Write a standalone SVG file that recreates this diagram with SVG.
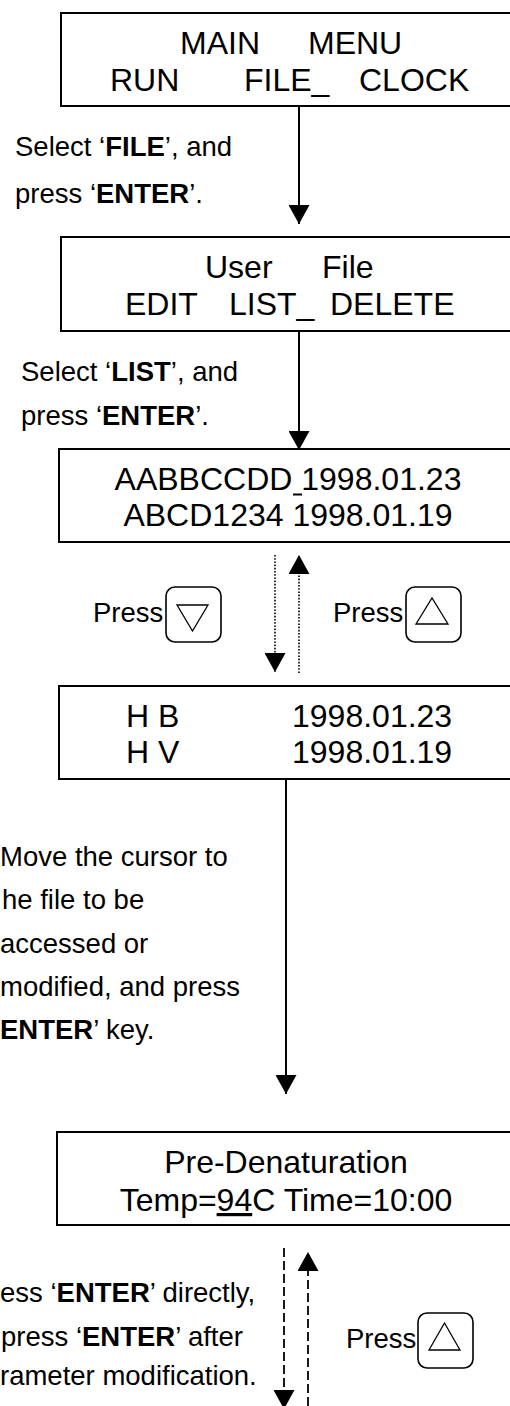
<svg xmlns="http://www.w3.org/2000/svg" width="510" height="1406" viewBox="0 0 510 1406">
  <style>
    .box { fill: #fff; stroke: #000; stroke-width: 2; }
    .lcd { font-family: "Liberation Sans", Arial, sans-serif; font-size: 32px; fill: #000; }
    .note { font-family: "Liberation Sans", Arial, sans-serif; font-size: 27.5px; fill: #000; }
    .b { font-weight: bold; }
    .key { fill: #fff; stroke: #000; stroke-width: 1.6; }
    .tri { fill: none; stroke: #000; stroke-width: 1.3; }
    .flow { fill: none; stroke: #000; stroke-width: 2; }
    .dot { fill: none; stroke: #000; stroke-width: 1.6; stroke-dasharray: 1.6 1.6; }
    .dash { fill: none; stroke: #000; stroke-width: 1.8; stroke-dasharray: 9 4; }
  </style>
  <defs>
    <marker id="head" viewBox="0 0 19 21" markerWidth="19" markerHeight="21" refX="19" refY="10.5" orient="auto" markerUnits="userSpaceOnUse">
      <path d="M0,0 L19,10.5 L0,21 Z" fill="#000"/>
    </marker>
  </defs>

  <rect width="510" height="1406" fill="#fff"/>

  <!-- connectors -->
  <g id="connectors">
    <line class="flow" x1="299" y1="106" x2="299" y2="224" marker-end="url(#head)"/>
    <line class="flow" x1="299" y1="331" x2="299" y2="450" marker-end="url(#head)"/>
    <line class="dot" x1="275" y1="555" x2="275" y2="672" marker-end="url(#head)"/>
    <line class="dot" x1="299" y1="673" x2="299" y2="555" marker-end="url(#head)"/>
    <line class="flow" x1="286" y1="779" x2="286" y2="1094" marker-end="url(#head)"/>
    <line class="dash" x1="284" y1="1248" x2="284" y2="1409" marker-end="url(#head)"/>
    <line class="dash" x1="308" y1="1406" x2="308" y2="1252" marker-end="url(#head)"/>
  </g>

  <!-- screen: main menu -->
  <g id="main-menu">
    <rect class="box" x="61" y="13" width="470" height="93"/>
    <text class="lcd" y="54"><tspan x="180">MAIN</tspan><tspan x="308">MENU</tspan></text>
    <text class="lcd" y="91"><tspan x="110">RUN</tspan><tspan x="244">FILE_</tspan><tspan x="359">CLOCK</tspan></text>
  </g>

  <g id="note-file">
    <text class="note" x="15" y="156">Select ‘<tspan class="b">FILE</tspan>’, and</text>
    <text class="note" x="15" y="203">press ‘<tspan class="b">ENTER</tspan>’.</text>
  </g>

  <!-- screen: user file -->
  <g id="user-file">
    <rect class="box" x="61" y="237" width="470" height="94"/>
    <text class="lcd" y="278"><tspan x="205">User</tspan><tspan x="322">File</tspan></text>
    <text class="lcd" y="315"><tspan x="125">EDIT</tspan><tspan x="229">LIST_</tspan><tspan x="330">DELETE</tspan></text>
  </g>

  <g id="note-list">
    <text class="note" x="21" y="381">Select ‘<tspan class="b">LIST</tspan>’, and</text>
    <text class="note" x="21" y="425">press ‘<tspan class="b">ENTER</tspan>’.</text>
  </g>

  <!-- screen: file list -->
  <g id="file-list">
    <rect class="box" x="59" y="449" width="472" height="93"/>
    <text class="lcd" x="288" y="490" text-anchor="middle">AABBCCDD 1998.01.23</text>
    <line x1="293" y1="494.5" x2="302" y2="494.5" stroke="#000" stroke-width="2"/>
    <text class="lcd" x="288" y="526" text-anchor="middle">ABCD1234 1998.01.19</text>
  </g>

  <g id="key-down">
    <text class="note" x="93" y="622">Press</text>
    <rect class="key" x="166" y="587" width="55" height="55" rx="9"/>
    <polygon class="tri" points="177,605 208,605 192.5,631"/>
  </g>

  <g id="key-up">
    <text class="note" x="333" y="622">Press</text>
    <rect class="key" x="406" y="587" width="55" height="55" rx="9"/>
    <polygon class="tri" points="416,624 448,624 432,598"/>
  </g>

  <!-- screen: file list, scrolled -->
  <g id="file-list-2">
    <rect class="box" x="59" y="686" width="472" height="93"/>
    <text class="lcd" y="727"><tspan x="126">H B</tspan><tspan x="292">1998.01.23</tspan></text>
    <text class="lcd" y="763"><tspan x="126">H V</tspan><tspan x="292">1998.01.19</tspan></text>
  </g>

  <g id="note-open">
    <text class="note" x="0" y="866">Move the cursor to</text>
    <text class="note" x="2" y="909">he file to be</text>
    <text class="note" x="0" y="953">accessed or</text>
    <text class="note" x="0" y="996">modified, and press</text>
    <text class="note" x="0" y="1039"><tspan class="b">ENTER</tspan>’ key.</text>
  </g>

  <!-- screen: program step -->
  <g id="pre-denaturation">
    <rect class="box" x="57" y="1132" width="474" height="93"/>
    <text class="lcd" x="286" y="1173" text-anchor="middle">Pre-Denaturation</text>
    <text class="lcd" x="286" y="1211" text-anchor="middle">Temp=<tspan text-decoration="underline">94</tspan>C Time=10:00</text>
  </g>

  <g id="note-confirm">
    <text class="note" x="0" y="1302">ess ‘<tspan class="b">ENTER</tspan>’ directly,</text>
    <text class="note" x="1" y="1346">press ‘<tspan class="b">ENTER</tspan>’ after</text>
    <text class="note" x="0" y="1385">rameter modification.</text>
  </g>

  <g id="key-up-2">
    <text class="note" x="346" y="1348">Press</text>
    <rect class="key" x="418" y="1313" width="55" height="55" rx="9"/>
    <polygon class="tri" points="429,1350 460,1350 444.5,1323"/>
  </g>
</svg>
